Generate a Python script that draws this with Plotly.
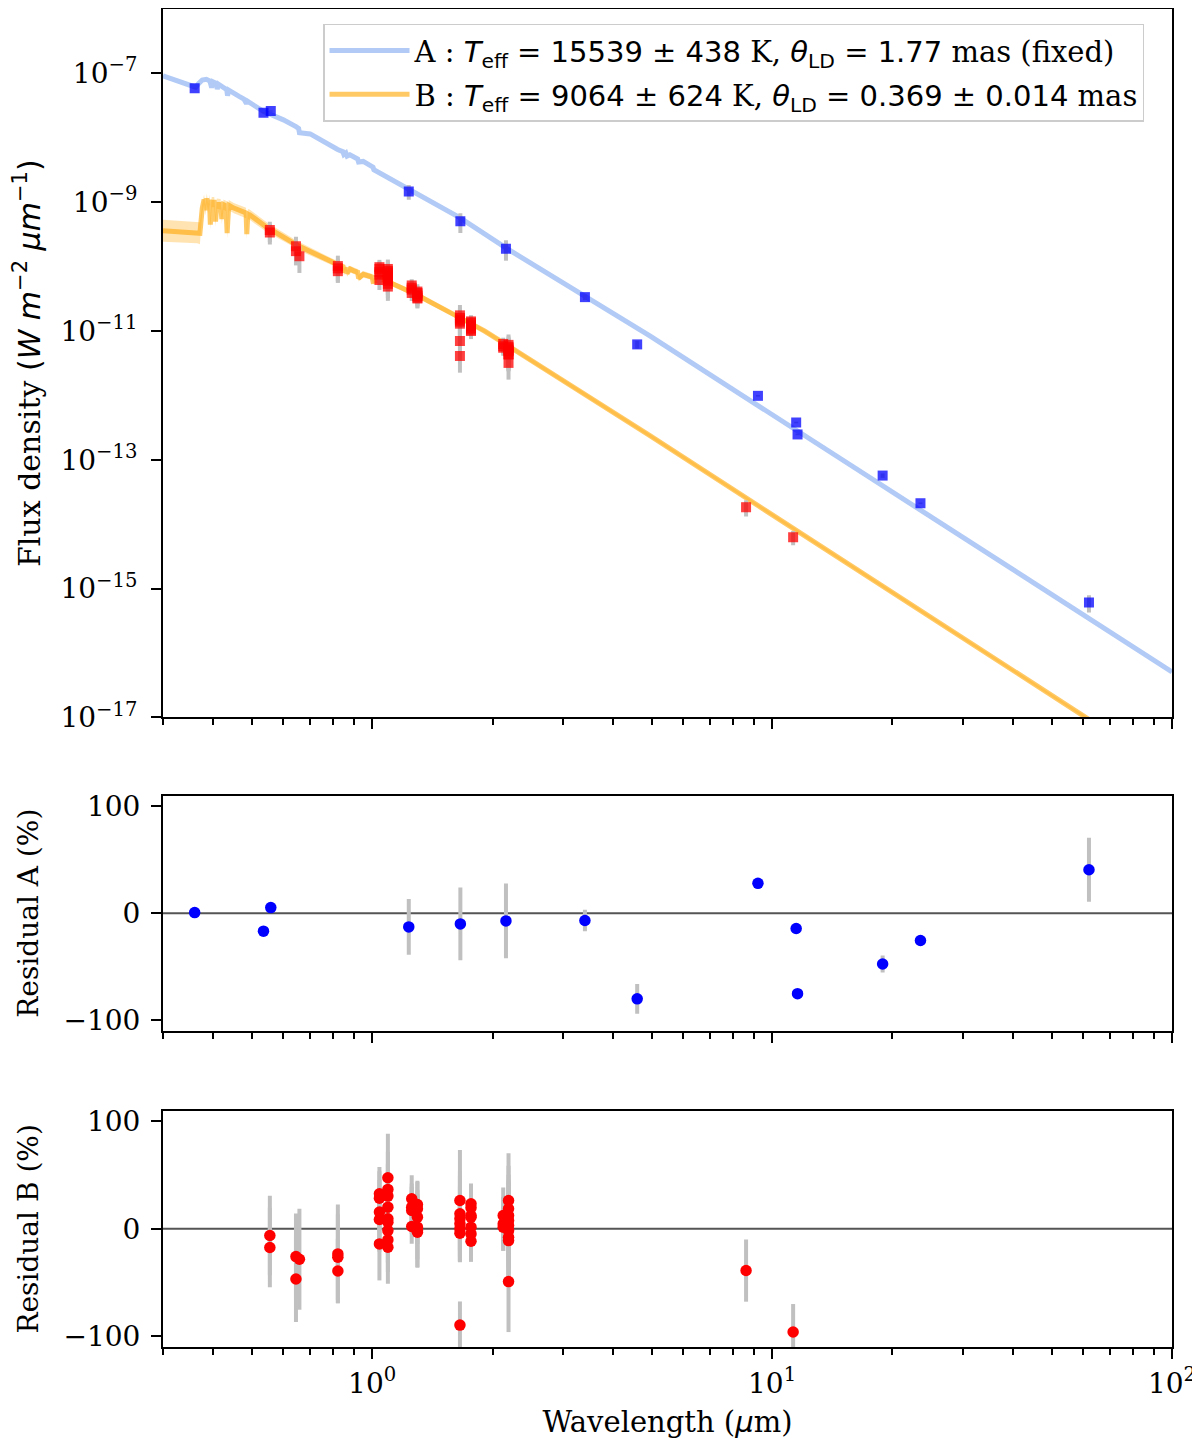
"""
SED fit of the A + B pair.

Top panel: photometry of both components with the fitted model spectra.
Middle and bottom panels: fit residuals of A and B in percent.
"""

import numpy as np
import plotly.graph_objects as go
from plotly.subplots import make_subplots

SERIF = "DejaVu Serif"
SANS = "DejaVu Sans"

# ---- component A photometry: wavelength (um), flux (W m-2 um-1), error (%), residual (%)
WL_A = [0.360, 0.535, 0.558, 1.235, 1.662, 2.161, 3.405, 4.60,
        9.22, 11.49, 11.58, 18.9, 23.5, 62.0]
FLUX_A = [5.86e-8, 2.46e-8, 2.61e-8, 1.47e-9, 5.05e-10, 1.90e-10, 3.36e-11, 6.2e-12,
          9.86e-13, 3.8e-13, 2.48e-13, 5.7e-14, 2.12e-14, 6.1e-16]
ERR_A = [2, 2, 2, 26, 34, 35, 10, 14, 3, 3, 3, 8, 3, 30]
RES_A = [0.6, -16.8, 5.3, -12.8, -10.0, -7.2, -6.8, -80.2,
         28.0, -14.3, -75.3, -47.6, -25.5, 40.7]
RES_ERR_A = [1, 1, 1, 26, 34, 35, 10, 14, 2, 2, 2, 8, 2, 30]

# ---- component B photometry
WL_B = [0.555, 0.555, 0.645, 0.645, 0.658, 0.821, 0.821, 0.821,
        1.043, 1.043, 1.043, 1.043, 1.043,
        1.095, 1.095, 1.095, 1.095, 1.095, 1.095, 1.095, 1.095, 1.095,
        1.256, 1.256, 1.256, 1.256,
        1.298, 1.298, 1.298, 1.298, 1.298, 1.298,
        1.658, 1.658, 1.658, 1.658, 1.658, 1.658, 1.658,
        1.767, 1.767, 1.767, 1.767, 1.767, 1.767, 1.767,
        2.127, 2.127, 2.127,
        2.193, 2.193, 2.193, 2.193, 2.193, 2.193, 2.193, 2.193, 2.193,
        8.61, 11.29]
FLUX_B = [3.7e-10, 3.4e-10, 2.07e-10, 1.74e-10, 1.45e-10, 1.02e-10, 9.4e-11, 8.5e-11,
          9.8e-11, 9.2e-11, 8.2e-11, 7.5e-11, 6.2e-11,
          9.2e-11, 8.6e-11, 8.1e-11, 7.4e-11, 6.8e-11, 6.4e-11, 6.0e-11, 5.4e-11, 4.9e-11,
          5.1e-11, 4.7e-11, 4.4e-11, 3.9e-11,
          4.1e-11, 3.9e-11, 3.7e-11, 3.5e-11, 3.3e-11, 3.2e-11,
          1.75e-11, 1.6e-11, 1.5e-11, 1.4e-11, 1.3e-11, 7.0e-12, 4.1e-12,
          1.41e-11, 1.35e-11, 1.25e-11, 1.2e-11, 1.12e-11, 1.05e-11, 1.0e-11,
          6.3e-12, 5.8e-12, 5.5e-12,
          6.1e-12, 5.7e-12, 5.4e-12, 5.1e-12, 4.9e-12, 4.6e-12, 4.4e-12, 4.3e-12, 3.2e-12,
          1.84e-14, 6.3e-15]
ERR_B = [35, 35, 40, 40, 45, 45, 40, 30,
         30, 30, 30, 30, 30,
         40, 40, 40, 40, 40, 40, 40, 40, 40,
         25, 25, 25, 25,
         30, 30, 30, 30, 30, 30,
         45, 45, 45, 45, 45, 40, 45,
         25, 25, 25, 25, 25, 25, 25,
         25, 25, 25,
         45, 45, 45, 45, 45, 45, 45, 45, 45,
         28, 25]
RES_B = [-6.2, -17.4, -25.8, -46.7, -28.3, -23.3, -26.4, -39.2,
         32.7, 28.6, 15.6, 8.7, -14.0,
         47.6, 36.7, 30.5, 20.2, 9.3, 6.2, -1.6, -10.3, -17.1,
         28.0, 20.2, 17.1, 2.2,
         22.7, 18.7, 10.9, 1.6, -1.6, -3.1,
         26.4, 14.0, 9.3, 4.7, 0.0, -4.0, -89.6,
         23.3, 19.6, 12.4, 10.9, 1.6, -4.7, -11.5,
         12.4, 4.7, 1.6,
         26.4, 18.7, 12.4, 7.8, 3.1, -1.6, -7.8, -10.9, -49.1,
         -38.8, -96.0]
RES_ERR_B = [37, 37, 40, 40, 47, 46, 40, 30,
             25, 25, 30, 30, 34,
             41, 35, 30, 30, 30, 30, 30, 30, 34,
             22, 22, 22, 16,
             22, 25, 25, 30, 34, 33,
             47, 40, 40, 35, 30, 27, 22,
             19, 20, 20, 22, 25, 26, 19,
             26, 25, 22,
             44, 40, 38, 38, 40, 40, 40, 40, 47,
             29, 26]

# ---- model spectra (knots)
WL_MODEL_A = [0.30, 0.362, 0.368, 0.376, 0.385, 0.393, 0.397, 0.400, 0.408, 0.410,
              0.413, 0.425, 0.433, 0.435, 0.438, 0.465, 0.478, 0.485, 0.488, 0.536,
              0.60, 0.645, 0.655, 0.658, 0.70, 0.82, 0.845, 0.85, 0.86, 0.866,
              0.88, 0.92, 0.925, 0.95, 1.005, 1.01, 1.243, 1.66, 2.16, 3.36,
              4.96, 100.0]
FLUX_MODEL_A = [9.2e-8, 6.1e-8, 6.9e-8, 7.9e-8, 8.1e-8, 7.6e-8, 6.0e-8, 7.4e-8, 7.0e-8, 5.7e-8,
                6.8e-8, 6.2e-8, 5.6e-8, 4.5e-8, 5.5e-8, 4.4e-8, 4.0e-8, 3.4e-8, 3.7e-8, 2.55e-8,
                1.9e-8, 1.49e-8, 1.4e-8, 1.2e-8, 1.15e-8, 6.6e-9, 6.1e-9, 5.5e-9, 5.8e-9, 5.2e-9,
                5.46e-9, 4.7e-9, 4.2e-9, 4.3e-9, 3.5e-9, 3.2e-9, 1.56e-9, 5.7e-10, 1.95e-10, 3.7e-11,
                8.3e-12, 5.1e-17]

WL_MODEL_B = [0.30, 0.365, 0.371, 0.376, 0.380, 0.383, 0.386, 0.389, 0.392, 0.394,
              0.397, 0.403, 0.406, 0.409, 0.418, 0.421, 0.425, 0.431, 0.434, 0.438,
              0.451, 0.484, 0.486, 0.489, 0.494, 0.545, 0.645, 0.654, 0.656, 0.659,
              0.820, 0.845, 0.850, 0.860, 0.866, 0.880, 0.900, 0.920, 0.925, 0.950,
              1.000, 1.005, 1.066, 1.26, 1.29, 1.66, 1.91, 2.16, 4.95, 65.0]
FLUX_MODEL_B = [3.6e-10, 3.4e-10, 3.3e-10, 8.0e-10, 1.1e-9, 7.5e-10, 1.15e-9, 8.0e-10, 1.1e-9, 4.5e-10,
                1.0e-9, 1.0e-9, 5.0e-10, 9.5e-10, 9.3e-10, 5.5e-10, 9.2e-10, 8.8e-10, 3.3e-10, 9.0e-10,
                8.1e-10, 6.8e-10, 3.2e-10, 6.5e-10, 6.4e-10, 4.1e-10, 2.26e-10, 2.1e-10, 1.6e-10, 2.05e-10,
                1.08e-10, 1.0e-10, 8.2e-11, 9.6e-11, 7.8e-11, 9.2e-11, 8.6e-11, 8.2e-11, 6.6e-11, 7.6e-11,
                6.9e-11, 5.9e-11, 6.3e-11, 3.9e-11, 3.7e-11, 1.6e-11, 1.0e-11, 6.2e-12, 2.37e-13, 7.7e-18]
# half width of the B model uncertainty band (dex)
BAND_DEX_B = [0.17, 0.17, 0.17, 0.08, 0.08, 0.08, 0.08, 0.08, 0.08, 0.08,
              0.08, 0.08, 0.08, 0.08, 0.08, 0.08, 0.08, 0.08, 0.08, 0.08,
              0.08, 0.08, 0.08, 0.08, 0.08, 0.075, 0.065, 0.065, 0.065, 0.065,
              0.05, 0.05, 0.05, 0.05, 0.05, 0.05, 0.05, 0.05, 0.05, 0.05,
              0.045, 0.045, 0.04, 0.04, 0.04, 0.035, 0.03, 0.03, 0.025, 0.02]

# ---- axis ticks
X_MAJOR = [1, 10, 100]
X_MAJOR_TEXT = ["10<sup>0</sup>", "10<sup>1</sup>", "10<sup>2</sup>"]
X_MINOR = [0.3, 0.4, 0.5, 0.6, 0.7, 0.8, 0.9, 2, 3, 4, 5, 6, 7, 8, 9,
           20, 30, 40, 50, 60, 70, 80, 90]
Y_FLUX_TICKS = [1e-17, 1e-15, 1e-13, 1e-11, 1e-9, 1e-7]
Y_FLUX_TEXT = ["10<sup>−17</sup>", "10<sup>−15</sup>", "10<sup>−13</sup>",
               "10<sup>−11</sup>", "10<sup>−9</sup>", "10<sup>−7</sup>"]
Y_RES_TICKS = [-100, 0, 100]
Y_RES_TEXT = ["−100", "0", "100"]

MATH = '<span style="font-family:DejaVu Sans">'
NAME_A = (f"A : {MATH}<i>T</i><sub>eff</sub> = 15539 ± 438</span> K, "
          f"{MATH}<i>θ</i><sub>LD</sub> = 1.77</span> mas (fixed)")
NAME_B = (f"B : {MATH}<i>T</i><sub>eff</sub> = 9064 ± 624</span> K, "
          f"{MATH}<i>θ</i><sub>LD</sub> = 0.369 ± 0.014</span> mas")

COLOR_A_LINE = "rgba(100,149,237,0.5)"
COLOR_B_LINE = "rgba(255,165,0,0.6)"
COLOR_B_BAND = "rgba(255,165,0,0.3)"
ERR_COLOR = "#c0c0c0"


def abs_err(flux, pct):
    """Percent errors -> absolute flux errors."""
    return (np.array(flux) * np.array(pct) / 100.0).tolist()


def add_top_panel(fig):
    """Models and photometry in the flux panel."""
    fig.add_trace(go.Scatter(
        x=WL_MODEL_A, y=FLUX_MODEL_A, mode="lines", name=NAME_A, legendgroup="a",
        line=dict(color=COLOR_A_LINE, width=5)), row=1, col=1)

    f = np.array(FLUX_MODEL_B)
    w = np.array(BAND_DEX_B)
    lo = (f * 10 ** (-w)).tolist()
    hi = (f * 10 ** w).tolist()
    fig.add_trace(go.Scatter(
        x=WL_MODEL_B + WL_MODEL_B[::-1], y=hi + lo[::-1], mode="lines", fill="toself",
        fillcolor=COLOR_B_BAND, line=dict(width=0), showlegend=False, legendgroup="b",
        hoverinfo="skip"), row=1, col=1)
    fig.add_trace(go.Scatter(
        x=WL_MODEL_B, y=FLUX_MODEL_B, mode="lines", name=NAME_B, legendgroup="b",
        line=dict(color=COLOR_B_LINE, width=5)), row=1, col=1)

    for wl, flux, err, color in ((WL_A, FLUX_A, ERR_A, "rgba(0,0,255,0.75)"),
                                 (WL_B, FLUX_B, ERR_B, "rgba(255,0,0,0.75)")):
        fig.add_trace(go.Scatter(
            x=wl, y=flux, mode="markers", showlegend=False,
            marker=dict(symbol="square", size=10, color=color, line=dict(width=0)),
            error_y=dict(type="data", array=abs_err(flux, err), color=ERR_COLOR,
                         thickness=4, width=0)), row=1, col=1)


def add_residuals(fig, wl, res, err, color, row):
    """Residual dots with error bars and the zero line."""
    fig.add_trace(go.Scatter(
        x=wl, y=res, mode="markers", showlegend=False,
        marker=dict(symbol="circle", size=11.5, color=color, line=dict(width=0)),
        error_y=dict(type="data", array=err, color=ERR_COLOR, thickness=4, width=0)),
        row=row, col=1)
    fig.add_hline(y=0, line=dict(color="#555555", width=2), layer="below", row=row, col=1)


def build_figure():
    fig = make_subplots(rows=3, cols=1, shared_xaxes=True)
    add_top_panel(fig)
    add_residuals(fig, WL_A, RES_A, RES_ERR_A, "blue", 2)
    add_residuals(fig, WL_B, RES_B, RES_ERR_B, "red", 3)

    frame = dict(showline=True, mirror=True, linecolor="black", linewidth=2,
                 ticks="outside", ticklen=10, tickwidth=2, tickcolor="black",
                 showgrid=False, zeroline=False, automargin=False,
                 tickfont=dict(family=SERIF, size=28, color="black"))

    for row in (1, 2, 3):
        fig.update_xaxes(
            type="log", range=[np.log10(0.3), 2], tickmode="array",
            tickvals=X_MAJOR, ticktext=X_MAJOR_TEXT, showticklabels=(row == 3),
            ticklabeloverflow="allow",
            minor=dict(tickmode="array", tickvals=X_MINOR, ticks="outside", ticklen=6,
                       tickwidth=1.5, tickcolor="black", showgrid=False),
            **frame, row=row, col=1)

    fig.update_xaxes(
        title=dict(text=f"Wavelength ({MATH}<i>µ</i></span>m)",
                   font=dict(family=SERIF, size=29), standoff=13),
        row=3, col=1)

    fig.update_yaxes(
        type="log", range=[-17, -6], tickmode="array", tickvals=Y_FLUX_TICKS,
        ticktext=Y_FLUX_TEXT, ticklabelstandoff=8,
        title=dict(text=f"Flux density {MATH}(<i>W m</i><sup>−2</sup> <i>µm</i><sup>−1</sup>)</span>",
                   font=dict(family=SERIF, size=30), standoff=39),
        **frame, row=1, col=1)
    for row, label in ((2, "Residual A (%)"), (3, "Residual B (%)")):
        fig.update_yaxes(
            range=[-110, 110], tickmode="array", tickvals=Y_RES_TICKS, ticktext=Y_RES_TEXT,
            ticklabelstandoff=5,
            title=dict(text=label, font=dict(family=SERIF, size=28), standoff=17),
            **frame, row=row, col=1)

    # the page puts the figure 8 px in from the top-left corner
    fig.update_layout(
        width=1200, height=1446,
        margin=dict(l=155, r=36, t=1, b=107),
        paper_bgcolor="white", plot_bgcolor="white",
        font=dict(family=SERIF, size=28, color="black"),
        yaxis=dict(domain=[0.4705, 1.0]),
        yaxis2=dict(domain=[0.2364, 0.4120]),
        yaxis3=dict(domain=[0.0, 0.1766]),
        legend=dict(x=0.1586, y=0.989, xanchor="left", yanchor="top",
                    bgcolor="rgba(255,255,255,0.8)", bordercolor="#cccccc", borderwidth=1.5,
                    font=dict(family=SERIF, size=29, color="black"), tracegroupgap=3,
                    itemwidth=80),
        hovermode=False,
    )
    return fig


def main():
    fig = build_figure()
    fig.write_html("out.html")


if __name__ == "__main__":
    main()
